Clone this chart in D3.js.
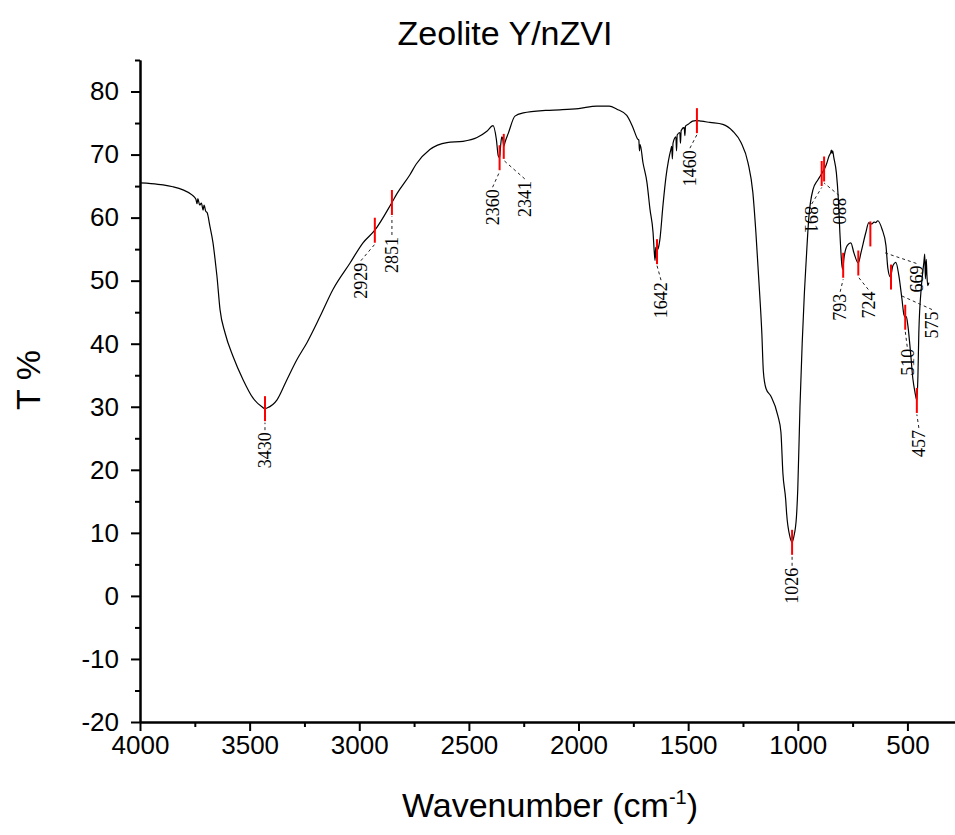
<!DOCTYPE html>
<html>
  <head>
    <meta charset="utf-8">
    <title>Zeolite Y/nZVI</title>
    <script src="https://d3js.org/d3.v7.min.js"></script>
    <style>
      body { margin: 0; background: #fff; }
      svg { display: block; font-family: "Liberation Sans", Arial, sans-serif; }
      .axis path, .axis line { stroke: #000; stroke-width: 2; }
      .axis text { font-size: 26px; fill: #000; font-family: "Liberation Sans", Arial, sans-serif; }
      .spectrum { fill: none; stroke: #000; stroke-width: 1.2; }
      .marker { stroke: #ff0000; stroke-width: 2; }
      .leader { stroke: #222; stroke-width: 1; stroke-dasharray: 3, 3; }
      .peakLabel { font-family: "Liberation Serif", "Times New Roman", serif; font-size: 18px; fill: #000; }
    </style>
  </head>
  <body>
    <svg id="chart" width="955" height="835"></svg>
    <script>
      // spectrum (cm-1, T %)
      const wavenumber = [4000, 3950, 3895, 3850, 3804, 3763, 3745, 3740, 3736, 3728, 3720, 3712, 3708, 3700, 3694,
        3681, 3667, 3658, 3649, 3635, 3612, 3576, 3530, 3485, 3444, 3430, 3421, 3375, 3330, 3284, 3238, 3179,
        3120, 3042, 2983, 2929, 2851, 2828, 2769, 2740, 2678, 2600, 2527, 2463, 2418, 2390, 2375, 2366, 2360,
        2355, 2350, 2346, 2341, 2335, 2320, 2290, 2252, 2150, 2085, 2000, 1916, 1860, 1825, 1780, 1752, 1729,
        1725, 1722, 1719, 1706, 1688, 1674, 1660, 1655, 1651, 1648, 1645, 1642, 1635, 1629, 1615, 1601, 1590,
        1579, 1575, 1572, 1569, 1556, 1553, 1550, 1538, 1535, 1532, 1518, 1515, 1512, 1500, 1480, 1465, 1440,
        1401, 1342, 1296, 1259, 1227, 1205, 1191, 1177, 1164, 1157, 1145, 1123, 1091, 1077, 1068, 1055, 1051,
        1036, 1026, 1018, 1006, 1000, 990, 980, 970, 963, 949, 931, 908, 894, 871, 857, 850, 847, 844, 841,
        836, 824, 815, 808, 799, 795, 790, 774, 758, 744, 724, 712, 690, 676, 669, 662, 652, 645, 635, 616,
        598, 589, 578, 566, 553, 539, 525, 516, 510, 505, 498, 486, 475, 466, 457, 452, 448, 436, 425, 421,
        418, 414, 411, 407, 402];
      const transmittance = [65.5, 65.4, 65.2, 64.9, 64.4, 63.6, 62.9, 62.2, 63.0, 62.0, 62.3, 61.2, 62.0, 61.0, 60.8,
        58.6, 56.0, 53.5, 50.7, 45.4, 41.7, 38.0, 34.3, 31.4, 30.0, 29.7, 29.8, 31.1, 34.3, 37.5, 40.2, 44.3,
        48.6, 52.8, 56.0, 58.0, 62.4, 63.8, 66.8, 68.5, 70.8, 71.9, 72.1, 72.7, 73.7, 74.6, 72.5, 69.8, 69.5,
        71.5, 72.8, 72.6, 71.3, 72.0, 73.4, 76.1, 76.6, 77.0, 77.1, 77.3, 77.7, 77.7, 77.2, 76.2, 74.3, 72.4,
        72.3, 70.6, 71.6, 68.7, 65.6, 61.3, 57.6, 54.8, 53.2, 55.3, 53.6, 54.6, 55.3, 56.5, 61.9, 66.5, 69.0,
        70.8, 71.3, 69.3, 71.8, 72.8, 70.6, 73.1, 73.5, 71.8, 73.8, 74.3, 73.0, 74.5, 74.8, 75.3, 75.4, 75.3,
        75.1, 74.8, 73.7, 71.9, 68.7, 64.0, 57.6, 49.7, 41.7, 35.6, 32.9, 31.7, 28.6, 26.0, 19.5, 15.2, 13.1,
        9.4, 8.5, 9.4, 12.6, 17.0, 30.0, 40.0, 48.0, 52.4, 60.3, 64.4, 66.0, 66.8, 68.3, 69.8, 70.3, 70.7, 70.2, 70.6,
        69.6, 67.1, 62.9, 57.6, 52.5, 51.8, 53.4, 55.6, 56.0, 54.4, 52.8, 54.4, 57.6, 59.2, 59.0, 59.0, 59.3,
        59.2, 59.5, 58.2, 55.6, 51.9, 50.6, 52.4, 52.9, 50.8, 47.1, 44.6, 44.2, 44.3, 42.9, 38.7, 34.4, 32.4,
        31.0, 35.0, 41.7, 49.2, 52.9, 54.2, 50.3, 53.4, 50.8, 49.2, 49.7];
      // labelled peaks
      const peaks = [3430, 2929, 2851, 2360, 2341, 1642, 1460, 1026, 891, 880, 793, 724, 669, 575, 510, 457];
      // axis ticks
      const xTicks = [4000, 3500, 3000, 2500, 2000, 1500, 1000, 500];
      const xMinor = [3750, 3250, 2750, 2250, 1750, 1250, 750];
      const yTicks = [-20, -10, 0, 10, 20, 30, 40, 50, 60, 70, 80];
      const yMinor = [-15, -5, 5, 15, 25, 35, 45, 55, 65, 75, 85];

      // label placement: [dx from marker, gap below marker, rotation, marker shift]
      const labelPlace = {
        3430: [0, 11, -90, 0], 2929: [-14, 20, -90, 0], 2851: [0, 22, -90, 0], 2360: [-7, 19, -90, 0],
        2341: [21, 22, -90, 0], 1642: [4, 18, -90, 0], 1460: [-7, 17, -90, 0], 1026: [0, 13, -90, 0],
        891: [-10, 20, 90, 0], 880: [15, 16, 90, 0], 793: [-3, 16, -90, 0], 724: [10, 16, -90, 0],
        669: [46, 19, -90, 10], 575: [41, 22, -90, 3], 510: [2, 19, -90, 0], 457: [2, 17, -90, 0]
      };

      const svg = d3.select("#chart");
      const x = d3.scaleLinear()
        .domain([4000, 283])
        .range([140, 955]);
      const y = d3.scaleLinear()
        .domain([-20, 85])
        .range([722, 60]);

      // axes
      svg.append("g")
        .attr("class", "axis")
        .attr("transform", "translate(0, 722)")
        .call(d3.axisBottom(x).tickValues(xMinor).tickSize(5).tickSizeOuter(0).tickFormat(""));
      svg.append("g")
        .attr("class", "axis")
        .attr("transform", "translate(0, 722)")
        .call(d3.axisBottom(x).tickValues(xTicks).tickSize(9).tickPadding(5).tickSizeOuter(0).tickFormat(d3.format("d")));
      svg.append("g")
        .attr("class", "axis")
        .attr("transform", "translate(140, 0)")
        .call(d3.axisLeft(y).tickValues(yMinor).tickSize(5).tickSizeOuter(0).tickFormat(""));
      svg.append("g")
        .attr("class", "axis")
        .attr("transform", "translate(140, 0)")
        .call(d3.axisLeft(y).tickValues(yTicks).tickSize(9).tickPadding(12).tickSizeOuter(0).tickFormat(function(d) { return d < 0 ? "-" + Math.abs(d) : d; }));

      // spectrum
      const line = d3.line()
        .curve(d3.curveMonotoneX)
        .x(function(d) { return x(d); })
        .y(function(d, i) { return y(transmittance[i]); });
      svg.append("path")
        .attr("class", "spectrum")
        .attr("d", line(wavenumber));

      function valueAt(w) {
        for (let i = 0; i < wavenumber.length - 1; i++) {
          if (wavenumber[i] >= w && wavenumber[i + 1] <= w) {
            let t = (wavenumber[i] - w) / (wavenumber[i] - wavenumber[i + 1]);
            return transmittance[i] + t * (transmittance[i + 1] - transmittance[i]);
          }
        }
        return transmittance[transmittance.length - 1];
      }

      // peak markers and labels
      const peakGroup = svg.append("g");
      peaks.forEach(function(p) {
        let place = labelPlace[p];
        let mx = x(p);
        let my = y(valueAt(p)) + place[3];
        let tx = mx + place[0];
        let labelTop = my + 12.5 + place[1];
        // dashed leader runs from the label back toward the marker
        let x0 = tx, y0 = labelTop - 2, x1 = mx, y1 = my + 14;
        let len = Math.hypot(x1 - x0, y1 - y0);
        let k = Math.min(1, 36 / len);
        peakGroup.append("line")
          .attr("class", "leader")
          .attr("x1", x0).attr("y1", y0)
          .attr("x2", x0 + (x1 - x0) * k).attr("y2", y0 + (y1 - y0) * k);
        peakGroup.append("line")
          .attr("class", "marker")
          .attr("x1", mx).attr("x2", mx)
          .attr("y1", my - 12.5).attr("y2", my + 12.5);
        peakGroup.append("text")
          .attr("class", "peakLabel")
          .attr("transform", "translate(" + tx + "," + labelTop + ") rotate(" + place[2] + ")")
          .attr("text-anchor", place[2] < 0 ? "end" : "start")
          .attr("dy", "0.35em")
          .text(p);
      });

      // titles
      svg.append("text")
        .attr("x", 505)
        .attr("y", 45)
        .attr("text-anchor", "middle")
        .style("font-size", "34px")
        .text("Zeolite Y/nZVI");
      svg.append("text")
        .attr("transform", "translate(28, 380) rotate(-90)")
        .attr("text-anchor", "middle")
        .attr("dy", "0.35em")
        .style("font-size", "34px")
        .text("T %");
      const xLabel = svg.append("text")
        .attr("x", 550)
        .attr("y", 817)
        .attr("text-anchor", "middle")
        .style("font-size", "34px");
      xLabel.append("tspan").text("Wavenumber (cm");
      xLabel.append("tspan").attr("dy", "-13").style("font-size", "20px").text("-1");
      xLabel.append("tspan").attr("dy", "13").text(")");
    </script>
  </body>
</html>
